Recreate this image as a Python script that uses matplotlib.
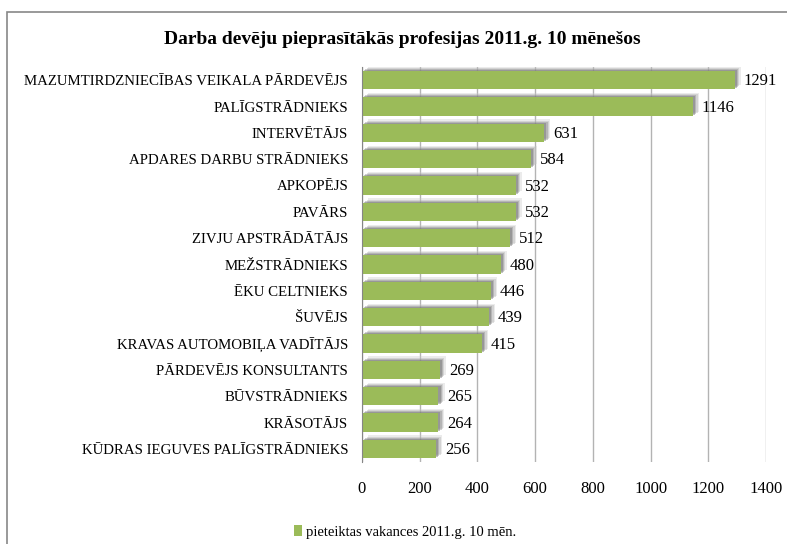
import matplotlib.pyplot as plt
import matplotlib.patheffects as pe
from matplotlib.patches import Rectangle, Patch

professions = [
    "MAZUMTIRDZNIECĪBAS VEIKALA PĀRDEVĒJS",
    "PALĪGSTRĀDNIEKS",
    "INTERVĒTĀJS",
    "APDARES DARBU STRĀDNIEKS",
    "APKOPĒJS",
    "PAVĀRS",
    "ZIVJU APSTRĀDĀTĀJS",
    "MEŽSTRĀDNIEKS",
    "ĒKU CELTNIEKS",
    "ŠUVĒJS",
    "KRAVAS AUTOMOBIĻA VADĪTĀJS",
    "PĀRDEVĒJS KONSULTANTS",
    "BŪVSTRĀDNIEKS",
    "KRĀSOTĀJS",
    "KŪDRAS IEGUVES PALĪGSTRĀDNIEKS",
]
vacancies = [1291, 1146, 631, 584, 532, 532, 512, 480, 446, 439, 415, 269, 265, 264, 256]
xticks = [0, 200, 400, 600, 800, 1000, 1200, 1400]
series_name = "pieteiktas vakances 2011.g. 10 mēn."
title = "Darba devēju pieprasītākās profesijas 2011.g. 10 mēnešos"

plt.rcParams['font.family'] = ['Liberation Serif', 'DejaVu Serif']

fig = plt.figure(figsize=(7.87, 5.44), dpi=100)
# outer chart frame (only left and top edges are inside the picture)
fig.patches.append(Rectangle((7 / 787, -0.1), 1.2, 1.1 - 12 / 544,
                             transform=fig.transFigure, fill=False,
                             edgecolor="#878787", linewidth=1.2))
ax = fig.add_axes([362 / 787, 1 - 462 / 544, (766 - 362) / 787, (462 - 67) / 544])

ypos = list(range(len(professions)))
# soft-ish drop shadow, several layers
shadow = [pe.SimplePatchShadow(offset=(4.5, 3.0), shadow_rgbFace="#c8c8c8", alpha=0.35),
          pe.SimplePatchShadow(offset=(3.5, 2.2), shadow_rgbFace="#a8a8a8", alpha=0.35),
          pe.SimplePatchShadow(offset=(2.5, 1.5), shadow_rgbFace="#8a8a8a", alpha=0.4),
          pe.SimplePatchShadow(offset=(1.5, 0.8), shadow_rgbFace="#6a6a6a", alpha=0.4),
          pe.Normal()]
bars = ax.barh(ypos, vacancies, height=0.7, color="#9bbb59", zorder=3)
for b in bars:
    b.set_path_effects(shadow)

for y, v in zip(ypos, vacancies):
    ax.text(v + 32, y + 0.05, str(v), va="center", ha="left", fontsize=12, zorder=4)

ax.set_ylim(len(professions) - 0.5, -0.5)
ax.set_xlim(0, 1400)
ax.set_xticks(xticks)
ax.set_xticklabels([str(t) for t in xticks], fontsize=12)
ax.set_yticks(ypos)
ax.set_yticklabels(professions, fontsize=10.7)
ax.tick_params(axis="both", length=0)
ax.tick_params(axis="x", pad=14)
ax.tick_params(axis="y", pad=10)
ax.grid(axis="x", color="#b3b3b3", linewidth=1, zorder=0)
for s in ["top", "right", "bottom"]:
    ax.spines[s].set_visible(False)
ax.spines["left"].set_color("#868686")
ax.spines["left"].set_zorder(5)

fig.text(402 / 787, 1 - 40 / 544, title, ha="center", va="center", fontsize=14, fontweight="bold")

fig.legend(handles=[Patch(facecolor="#9bbb59")], labels=[series_name], loc="center",
           bbox_to_anchor=(405 / 787, 1 - 532 / 544), frameon=False, fontsize=10.5,
           handlelength=0.55, handleheight=0.8, handletextpad=0.25)

fig.savefig("out.png", dpi=100, facecolor="white")
